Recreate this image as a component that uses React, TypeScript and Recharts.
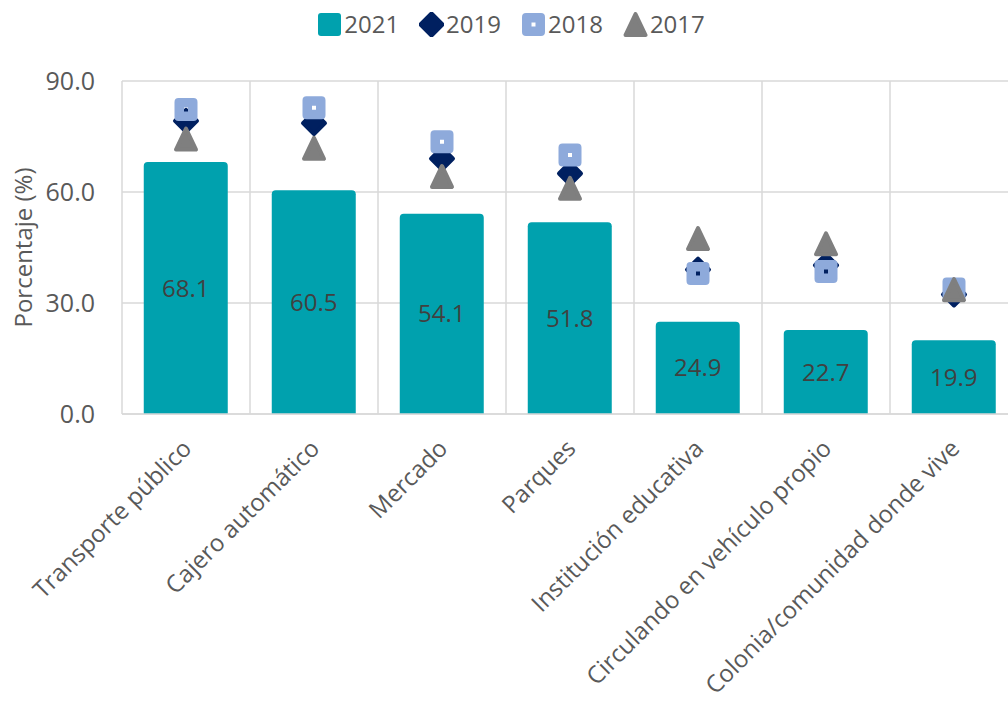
import React from "react";
import { ComposedChart, Bar, Line, XAxis, YAxis, CartesianGrid, LabelList, Label } from "recharts";

const categories = [
  "Transporte público",
  "Cajero automático",
  "Mercado",
  "Parques",
  "Institución educativa",
  "Circulando en vehículo propio",
  "Colonia/comunidad donde vive",
];
const v2021 = [68.1, 60.5, 54.1, 51.8, 24.9, 22.7, 19.9];
const v2019 = [79.2, 78.6, 69.0, 65.0, 39.0, 40.2, 32.3];
const v2018 = [82.3, 82.8, 73.6, 70.0, 38.0, 38.5, 33.8];
const v2017 = [74.3, 71.8, 64.2, 61.0, 47.4, 46.0, 33.6];
const yTicks = [0, 30, 60, 90];

const FONT = "'Open Sans', Lato, sans-serif";
const C2021 = "#00A1AE";
const C2019 = "#002060";
const C2018 = "#8EAADB";
const C2017 = "#7F7F7F";

const data = categories.map((name, i) => ({
  name,
  y2021: v2021[i],
  y2019: v2019[i],
  y2018: v2018[i],
  y2017: v2017[i],
}));

function Diamond({ cx, cy }: any) {
  if (cx == null || cy == null) return null;
  const h = 11;
  return (
    <polygon
      points={`${cx},${cy - h} ${cx + h},${cy} ${cx},${cy + h} ${cx - h},${cy}`}
      fill={C2019}
      stroke={C2019}
      strokeWidth={4}
      strokeLinejoin="round"
    />
  );
}

function HollowSquare({ cx, cy }: any) {
  if (cx == null || cy == null) return null;
  const h = 11.5;
  const c = 4;
  const d =
    `M${cx - h + c},${cy - h} H${cx + h - c} Q${cx + h},${cy - h} ${cx + h},${cy - h + c} ` +
    `V${cy + h - c} Q${cx + h},${cy + h} ${cx + h - c},${cy + h} H${cx - h + c} ` +
    `Q${cx - h},${cy + h} ${cx - h},${cy + h - c} V${cy - h + c} Q${cx - h},${cy - h} ${cx - h + c},${cy - h} Z ` +
    `M${cx - 2},${cy - 2} h4 v4 h-4 Z`;
  return <path d={d} fill={C2018} fillRule="evenodd" />;
}

function Triangle({ cx, cy }: any) {
  if (cx == null || cy == null) return null;
  return (
    <polygon
      points={`${cx},${cy - 10.5} ${cx + 10},${cy + 10.5} ${cx - 10},${cy + 10.5}`}
      fill={C2017}
      stroke={C2017}
      strokeWidth={4}
      strokeLinejoin="round"
    />
  );
}

function ChartLegend() {
  const items = [
    { label: "2021", icon: <rect x={1} y={1} width={23} height={23} rx={3} fill={C2021} /> },
    { label: "2019", icon: <Diamond cx={12.5} cy={12.5} /> },
    { label: "2018", icon: <HollowSquare cx={12.5} cy={12.5} /> },
    { label: "2017", icon: <Triangle cx={12.5} cy={12.5} /> },
  ];
  return (
    <div
      style={{
        position: "absolute",
        top: 11,
        left: 0,
        width: 1022,
        display: "flex",
        justifyContent: "center",
        fontFamily: FONT,
        fontSize: 24,
        lineHeight: "26px",
        color: "#595959",
      }}
    >
      {items.map((it) => (
        <div key={it.label} style={{ display: "flex", alignItems: "center", margin: "0 10px" }}>
          <svg width={25} height={25} style={{ marginRight: 2 }}>
            {it.icon}
          </svg>
          <span>{it.label}</span>
        </div>
      ))}
    </div>
  );
}

function XTick({ x, y, payload }: any) {
  const px = x + 7;
  const py = y + 28;
  return (
    <text
      x={px}
      y={py}
      transform={`rotate(-45 ${px} ${py})`}
      textAnchor="end"
      fill="#595959"
      fontSize={24}
      fontFamily={FONT}
    >
      {payload.value}
    </text>
  );
}

export default function App() {
  return (
    <div style={{ position: "fixed", left: 0, top: 0, width: 1008, height: 701, overflow: "hidden", background: "#fff" }}>
      <ChartLegend />
      <ComposedChart
        width={1030}
        height={701}
        data={data}
        margin={{ top: 81, right: 12, left: 0, bottom: 0 }}
        barCategoryGap="17%"
      >
        <CartesianGrid
          stroke="#D9D9D9"
          strokeWidth={1.5}
          verticalCoordinatesGenerator={({ offset }: any) =>
            categories.map((_, i) => offset.left + (i * offset.width) / categories.length).concat([offset.left + offset.width])
          }
        />
        <XAxis
          dataKey="name"
          interval={0}
          height={287}
          tickLine={false}
          axisLine={{ stroke: "#D9D9D9", strokeWidth: 1.5 }}
          tick={<XTick />}
        />
        <YAxis
          width={122}
          domain={[0, 90]}
          ticks={yTicks}
          axisLine={false}
          tickLine={false}
          tickMargin={21}
          tickFormatter={(v: number) => v.toFixed(1)}
          tick={{ fill: "#595959", fontSize: 25, fontFamily: FONT }}
        >
          <Label
            value="Porcentaje (%)"
            angle={-90}
            position="insideLeft"
            offset={23}
            style={{ fill: "#595959", fontSize: 24, fontFamily: FONT, textAnchor: "middle" }}
          />
        </YAxis>
        <Bar dataKey="y2021" name="2021" fill={C2021} radius={[4, 4, 0, 0]} isAnimationActive={false}>
          <LabelList
            dataKey="y2021"
            position="center"
            formatter={(v: any) => Number(v).toFixed(1)}
            style={{ fill: "#404040", fontSize: 24, fontFamily: FONT }}
          />
        </Bar>
        <Line dataKey="y2019" name="2019" stroke="none" dot={<Diamond />} activeDot={false} isAnimationActive={false} />
        <Line dataKey="y2018" name="2018" stroke="none" dot={<HollowSquare />} activeDot={false} isAnimationActive={false} />
        <Line dataKey="y2017" name="2017" stroke="none" dot={<Triangle />} activeDot={false} isAnimationActive={false} />
      </ComposedChart>
    </div>
  );
}
